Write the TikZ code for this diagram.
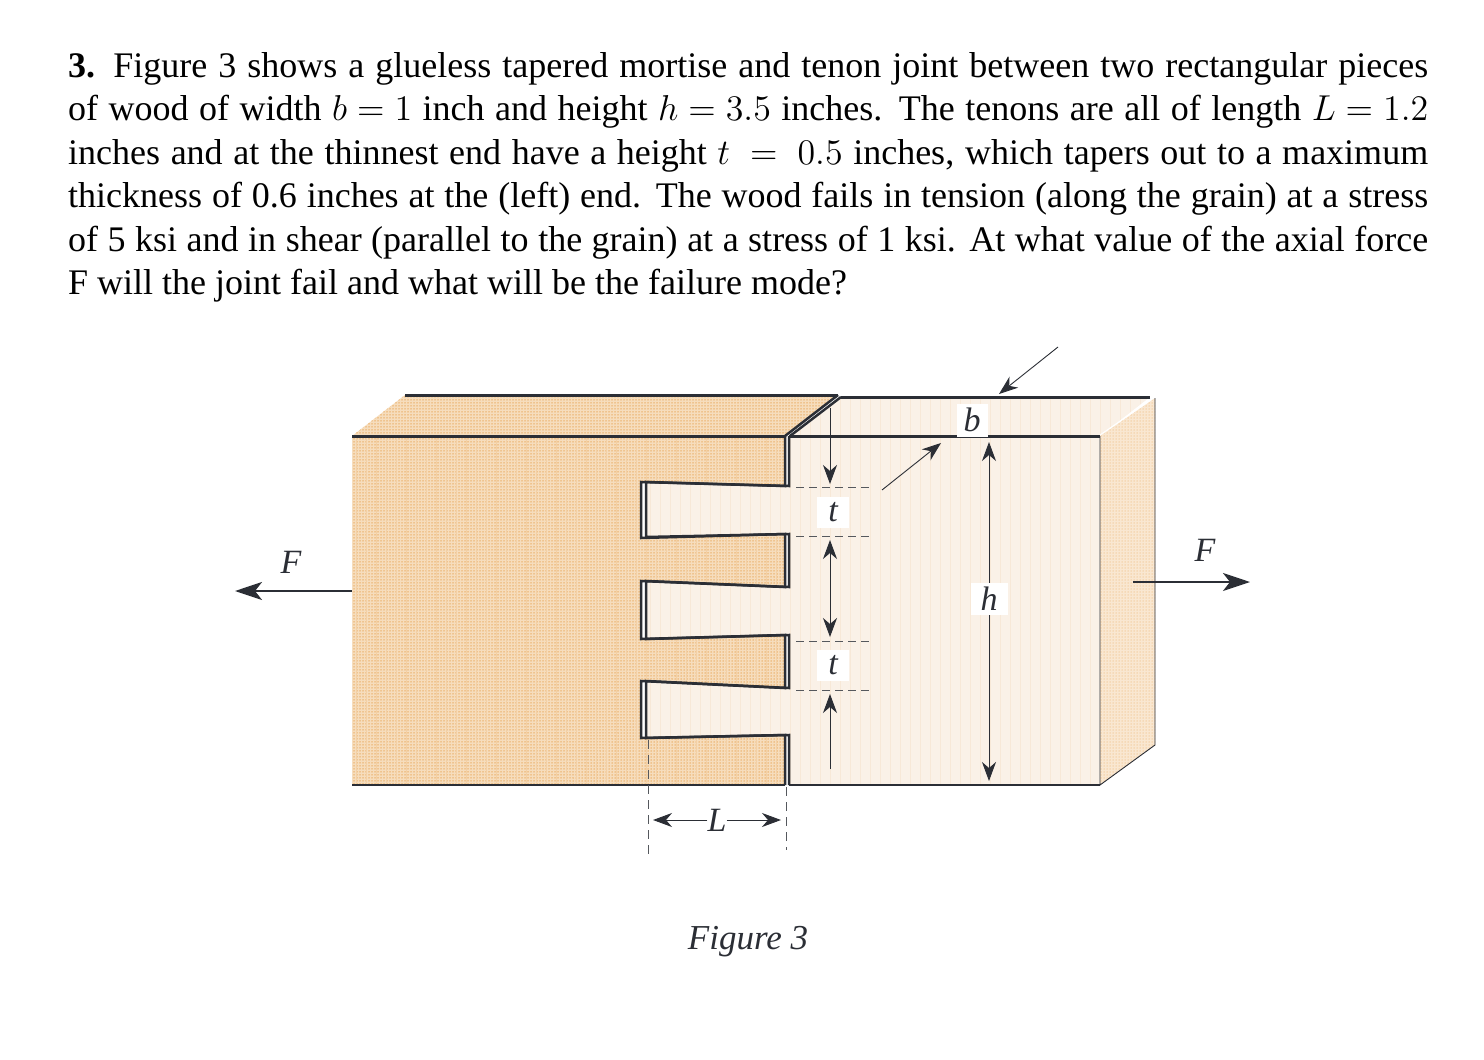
\documentclass[tikz,border=0pt]{standalone}
\usepackage[no-math]{fontspec}
\usepackage{graphicx}
\setmainfont{Liberation Serif}
\usetikzlibrary{arrows.meta,patterns.meta}
\definecolor{ink}{HTML}{2B2E35}
\definecolor{woodbase}{HTML}{F6DDBD}
\definecolor{wooddot}{HTML}{E9A95C}
\definecolor{paleface}{HTML}{FAF1E7}
\definecolor{palestripe}{HTML}{F7E8D7}
\newcommand{\leftfront}{(352,436) -- (785,436) -- (785,486) -- (641,482) -- (641,538) -- (785,534) -- (785,587) -- (641,581) -- (641,639) -- (785,635) -- (785,688) -- (641,681) -- (641,738) -- (785,735) -- (785,785) -- (352,785) -- cycle}
\newcommand{\rightfront}{(789,436) -- (1100,436) -- (1100,785) -- (789,785) -- (789,735) -- (646,738) -- (646,681) -- (789,688) -- (789,635) -- (646,639) -- (646,581) -- (789,587) -- (789,534) -- (646,537) -- (646,482) -- (789,486) -- cycle}
\newcommand{\lefttop}{(352,436) -- (405,395) -- (838,395) -- (785,436) -- cycle}
\newcommand{\righttop}{(790,436) -- (841,397) -- (1150,397) -- (1100,436) -- cycle}
\newcommand{\rightside}{(1100,436) -- (1155,398) -- (1155,745) -- (1100,785) -- cycle}
\newcommand{\fullline}[1]{\hbox to 1360pt{#1}}
\newcommand{\mth}[1]{\scalebox{3}{\fontsize{12}{14}\selectfont$#1$}}
\begin{document}
\begin{tikzpicture}[x=1pt, y=-1pt,
    thickln/.style={ink, line width=2.5pt},
    heavyln/.style={ink, line width=3pt},
    midln/.style={ink, line width=2pt},
    thinln/.style={ink, line width=0.9pt},
    dimln/.style={ink, line width=0.9pt},
    dimdash/.style={ink!80, line width=0.9pt, dash pattern=on 8pt off 5pt},
    tipped/.style={-{Stealth[length=19pt, width=14pt, inset=6pt]}},
    dblend/.style={{Stealth[length=19pt, width=14pt, inset=6pt]}-{Stealth[length=19pt, width=14pt, inset=6pt]}},
    forcetip/.style={-{Stealth[length=27pt, width=18pt, inset=7pt]}},
    stipple/.style={pattern={Dots[distance=3pt, radius=0.75pt]}, pattern color=wooddot},
    textline/.style={anchor=base west, inner sep=0pt, font=\fontsize{36}{40}\selectfont},
    lab/.style={font=\itshape\fontsize{34}{34}\selectfont, text=ink, inner sep=0pt},
    labbox/.style={lab, fill=white, minimum width=32pt, minimum height=31pt}]

    \useasboundingbox (0,0) rectangle (1484,1060);

    % problem text
    \node[textline] (line1) at (68,77) {\fullline{\textbf{3.} Figure 3 shows a glueless tapered mortise and tenon joint between two rectangular pieces}};
    \node[textline] (line2) at (68,120.5) {\fullline{of wood of width \mth{b=1} inch and height \mth{h=3.5} inches. The tenons are all of length \mth{L=1.2}}};
    \node[textline] (line3) at (68,164) {\fullline{inches and at the thinnest end have a height \mth{t\;=\;0.5} inches, which tapers out to a maximum}};
    \node[textline] (line4) at (68,207.5) {\fullline{thickness of 0.6 inches at the (left) end. The wood fails in tension (along the grain) at a stress}};
    \node[textline] (line5) at (68,251) {\fullline{of 5 ksi and in shear (parallel to the grain) at a stress of 1 ksi. At what value of the axial force}};
    \node[textline] (line6) at (68,294.5) {F will the joint fail and what will be the failure mode?};

    % left piece
    \fill[woodbase] \leftfront;
    \fill[woodbase] \lefttop;
    \fill[stipple] \leftfront;
    \fill[stipple] \lefttop;

    % right piece
    \fill[paleface] \rightfront;
    \fill[paleface] \righttop;
    \fill[woodbase!70!white] \rightside;
    \fill[stipple, pattern color=wooddot!60!white] \rightside;
    \begin{scope}
        \clip \rightfront;
        \foreach \x in {650,660,...,1100}
            \draw[palestripe, line width=1pt] (\x,430) -- (\x,790);
    \end{scope}
    \begin{scope}
        \clip \righttop;
        \foreach \x in {800,810,...,1150}
            \draw[palestripe, line width=1pt] (\x,390) -- (\x,440);
    \end{scope}
    \begin{scope}
        \clip \leftfront;
        \foreach \x in {356,366,...,786}
            \draw[wooddot!55!white, line width=1pt] (\x,430) -- (\x,790);
    \end{scope}

    % outlines
    \draw[thickln, line join=miter] (785,436) -- (785,486) -- (641,482) -- (641,538) -- (785,534) -- (785,587) -- (641,581) -- (641,639) -- (785,635) -- (785,688) -- (641,681) -- (641,738) -- (785,735) -- (785,785);
    \draw[thickln, line join=miter] (789,436) -- (789,486) -- (646,482) -- (646,537) -- (789,534) -- (789,587) -- (646,581) -- (646,639) -- (789,635) -- (789,688) -- (646,681) -- (646,738) -- (789,735) -- (789,785);
    \draw[heavyln] (352,436) -- (785,436) (789,436) -- (1100,436);
    \draw[midln] (352,785) -- (785,785) (789,785) -- (1100,785);
    \draw[heavyln] (405,395) -- (838,395);
    \draw[thickln] (838,395) -- (785,436);
    \draw[heavyln] (1150,397) -- (841,397);
    \draw[thickln] (841,397) -- (790,436);
    \draw[white, line width=1pt] (1100,435) -- (1155,397);
    \draw[thinln] (1100,436) -- (1100,785) -- (1155,745) -- (1155,398);

    % end points of the dimensions
    \coordinate (tTop) at (830,408);
    \coordinate (tTopTip) at (830,484);
    \coordinate (tMidUp) at (830,540);
    \coordinate (tMidDown) at (830,637);
    \coordinate (tBotTip) at (830,694);
    \coordinate (tBot) at (830,769);
    \coordinate (bInA) at (1058,347);
    \coordinate (bInB) at (999,394);
    \coordinate (bOutA) at (882,490);
    \coordinate (bOutB) at (941,443);
    \coordinate (hTop) at (989,442);
    \coordinate (hBot) at (989,781);
    \coordinate (FrA) at (1133,582);
    \coordinate (FrB) at (1250,582);
    \coordinate (FlA) at (352,591);
    \coordinate (FlB) at (235,591);
    \coordinate (LlA) at (648,740);
    \coordinate (LlB) at (648,856);
    \coordinate (LrA) at (786,787);
    \coordinate (LrB) at (786,850);
    \coordinate (LtipA) at (653,820);
    \coordinate (LtipB) at (781,820);

    % dashed extension lines
    \draw[dimdash] (796,487) -- (870,487);
    \draw[dimdash] (796,536) -- (870,536);
    \draw[dimdash] (796,641) -- (870,641);
    \draw[dimdash] (796,690) -- (870,690);

    \node[labbox] (t1) at (833,512) {t\hspace{4pt}};
    \node[labbox] (t2) at (833,665) {t\hspace{4pt}};
    \node[lab] (Lab) at (717,820) {L};
    \node[lab] (Fr) at (1205,550) {F};
    \node[lab] (Fl) at (291,562) {F};
    \node[lab, font=\itshape\fontsize{35}{35}\selectfont] (caption) at (748,942) {Figure 3};

    \path[dimln]
        (tTop) edge[tipped] (tTopTip)
        (tMidUp) edge[dblend] (tMidDown)
        (tBot) edge[tipped] (tBotTip)
        (bInA) edge[tipped] (bInB)
        (bOutA) edge[tipped] (bOutB)
        (hTop) edge[dblend] (hBot)
        (Lab) edge[tipped] (LtipA)
        (Lab) edge[tipped] (LtipB)
        ;
    \path[thickln, line width=2.6pt]
        (FrA) edge[forcetip] (FrB)
        (FlA) edge[forcetip] (FlB)
        ;
    \draw[dimdash, dash pattern=on 9pt off 6pt] (LlA) -- (LlB);
    \draw[dimdash, dash pattern=on 9pt off 6pt] (LrA) -- (LrB);

    \node[labbox, minimum width=31pt, minimum height=33pt] (b) at (972,420) {b};
    \node[labbox, minimum width=37pt, minimum height=32pt] (h) at (989,599) {h};

\end{tikzpicture}
\end{document}
